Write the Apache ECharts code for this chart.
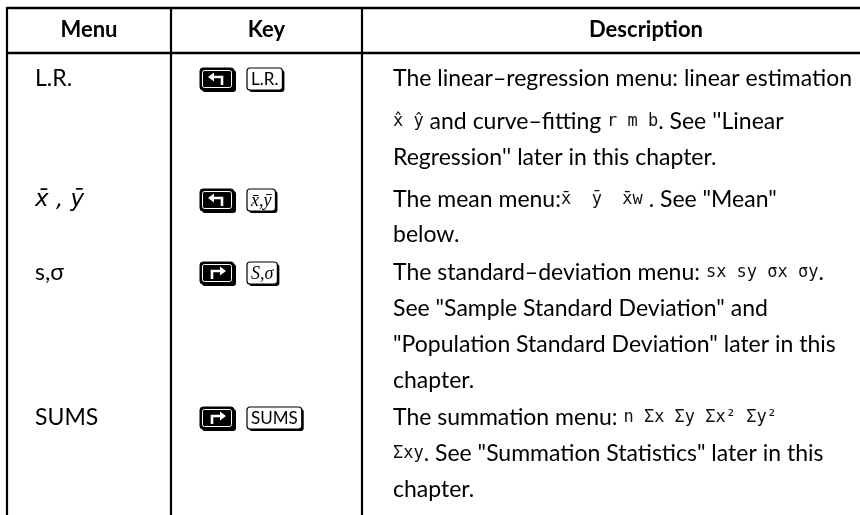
<!DOCTYPE html>
<html><head><meta charset="utf-8">
<script src="https://cdn.jsdelivr.net/npm/echarts@6/dist/echarts.min.js"></script>
<style>html,body{margin:0;padding:0;background:#fff}#c{width:860px;height:515px}</style>
</head><body><div id="c"></div>
<script>
// ---- data ----
const headers = ['Menu', 'Key', 'Description'];
const menuLabels = ['L.R.', 'x\u0304 , y\u0304', 's,\u03c3', 'SUMS'];
const shiftKeys = ['left', 'left', 'right', 'right'];
const keyLabels = ['L.R.', 'x\u0304,y\u0304', 'S,\u03c3', 'SUMS'];
const descRow1 = [
  'The linear\u2013regression menu: linear estimation',
  '{m|x\u0302 y\u0302} and curve\u2013fitting {m|r m b}. See \'\'Linear',
  'Regression\'\' later in this chapter.'
];
const descRow2 = [
  'The mean menu:{m|x\u0304  y\u0304  x\u0304w} . See "Mean"',
  'below.'
];
const descRow3 = [
  'The standard\u2013deviation menu: {m|sx sy \u03c3x \u03c3y}.',
  'See "Sample Standard Deviation" and',
  '"Population Standard Deviation" later in this',
  'chapter.'
];
const descRow4 = [
  'The summation menu: {m|n \u03a3x \u03a3y \u03a3x\u00b2 \u03a3y\u00b2}',
  '{m|\u03a3xy}. See "Summation Statistics" later in this',
  'chapter.'
];
const descriptions = [descRow1, descRow2, descRow3, descRow4];

// ---- layout (not data) ----
const W = 860, H = 515;
const vLines = [7, 171, 362];
const topY = 8, headY = 53;
const headTextY = 30;
const headCenters = [89, 266.5, 646];
const menuX = 35, keyX = 200, descX = 393;
const rowLineY = [[79, 122, 158], [200, 235], [273, 309, 345, 381], [418, 454, 490]];
const FAM = 'Lato, "Open Sans", sans-serif';

const mctx = document.createElement('canvas').getContext('2d');
function tw(font, s) { mctx.font = font; return mctx.measureText(s).width; }
let bodySize = 20 * 460 / tw('20px ' + FAM, descRow1[0]);
bodySize = Math.max(16, Math.min(23, bodySize));
const bodyFont = bodySize.toFixed(1) + 'px ' + FAM;
const headFont = 'bold 22px ' + FAM;
const monoRich = { m: { fontSize: 17, fontFamily: '"DejaVu Sans Mono", "Liberation Mono", monospace', fontWeight: 'normal', fill: '#111', color: '#111' } };

const chart = echarts.init(document.getElementById('c'), null, { renderer: 'canvas' });

function renderItem(params, api) {
  const i = params.dataIndex;
  const P = (x, y) => api.coord([x, y]);
  const ch = [];
  if (i === 0) {
    const a = P(vLines[0], topY), b = P(W, topY);
    ch.push({ type: 'line', shape: { x1: a[0], y1: a[1], x2: b[0], y2: b[1] }, style: { stroke: '#000', lineWidth: 2.4 } });
    const c = P(vLines[0], headY), d = P(W, headY);
    ch.push({ type: 'line', shape: { x1: c[0], y1: c[1], x2: d[0], y2: d[1] }, style: { stroke: '#000', lineWidth: 2.4 } });
    vLines.forEach(function (vx) {
      const e = P(vx, topY - 1), f = P(vx, H);
      ch.push({ type: 'line', shape: { x1: e[0], y1: e[1], x2: f[0], y2: f[1] }, style: { stroke: '#000', lineWidth: 2.2 } });
    });
    headers.forEach(function (h, k) {
      const p = P(headCenters[k], headTextY);
      ch.push({ type: 'text', style: { text: h, x: p[0], y: p[1], font: headFont, fill: '#000', align: 'center', verticalAlign: 'middle', textAlign: 'center', textVerticalAlign: 'middle' } });
    });
  }
  const ly = rowLineY[i];
  const mp = P(menuX, ly[0]);
  const menuFont = i === 1 ? 'italic ' + bodySize.toFixed(1) + 'px "DejaVu Sans", sans-serif' : bodyFont;
  ch.push({ type: 'text', style: { text: menuLabels[i], x: mp[0], y: mp[1], font: menuFont, fill: '#000', align: 'left', verticalAlign: 'middle', textAlign: 'left', textVerticalAlign: 'middle' } });
  // shift key
  const kh = 22, bw = 34;
  const kp = P(keyX, ly[0]);
  const kx = kp[0], ky = kp[1] - kh / 2;
  ch.push({ type: 'rect', shape: { x: kx + 2, y: ky + 2, width: bw, height: kh, r: 3 }, style: { fill: '#000' } });
  ch.push({ type: 'rect', shape: { x: kx, y: ky, width: bw, height: kh, r: 3 }, style: { fill: '#000', stroke: '#000', lineWidth: 1 } });
  ch.push({ type: 'rect', shape: { x: kx + 2.5, y: ky + 2.5, width: bw - 5, height: kh - 5, r: 2 }, style: { fill: '#000', stroke: '#fff', lineWidth: 1 } });
  // arrow glyph drawn as path
  const cx = kx + bw / 2, cy = kp[1];
  const dir = shiftKeys[i] === 'left' ? -1 : 1;
  const tipX = cx + dir * 9, barY = cy - 2;
  const stemX = cx - dir * 5;
  ch.push({ type: 'polyline', shape: { points: [[stemX, cy + 6], [stemX, barY], [tipX - dir * 4, barY]] }, style: { stroke: '#fff', lineWidth: 2.6, fill: null } });
  ch.push({ type: 'polygon', shape: { points: [[tipX, barY], [tipX - dir * 6, barY - 4.5], [tipX - dir * 6, barY + 4.5]] }, style: { fill: '#fff' } });
  // labelled key
  const serif = (i === 1 || i === 2);
  const lf = serif ? 'italic 18px "Liberation Serif", "DejaVu Serif", serif' : '17px ' + FAM;
  const lw = tw(lf, keyLabels[i]) + 8;
  const k2 = kx + bw + 13;
  ch.push({ type: 'rect', shape: { x: k2 + 2, y: ky + 2, width: lw, height: kh, r: 3 }, style: { fill: '#000' } });
  ch.push({ type: 'rect', shape: { x: k2, y: ky, width: lw, height: kh, r: 3 }, style: { fill: '#fff', stroke: '#000', lineWidth: 1.2 } });
  ch.push({ type: 'text', style: { text: keyLabels[i], x: k2 + lw / 2, y: kp[1] + 1, font: lf, fill: '#000', align: 'center', verticalAlign: 'middle', textAlign: 'center', textVerticalAlign: 'middle' } });
  // description lines
  descriptions[i].forEach(function (line, j) {
    const p = P(descX, ly[j]);
    ch.push({ type: 'text', style: { text: line, x: p[0], y: p[1], font: bodyFont, fill: '#000', rich: monoRich, align: 'left', verticalAlign: 'middle', textAlign: 'left', textVerticalAlign: 'middle' } });
  });
  return { type: 'group', children: ch };
}

chart.setOption({
  animation: false,
  grid: { left: 0, right: 0, top: 0, bottom: 0 },
  xAxis: { type: 'value', min: 0, max: W, show: false },
  yAxis: { type: 'value', min: 0, max: H, inverse: true, show: false },
  series: [{
    type: 'custom',
    renderItem: renderItem,
    clip: false,
    data: menuLabels.map(function (m, i) { return [i, i]; })
  }]
});
</script></body></html>
